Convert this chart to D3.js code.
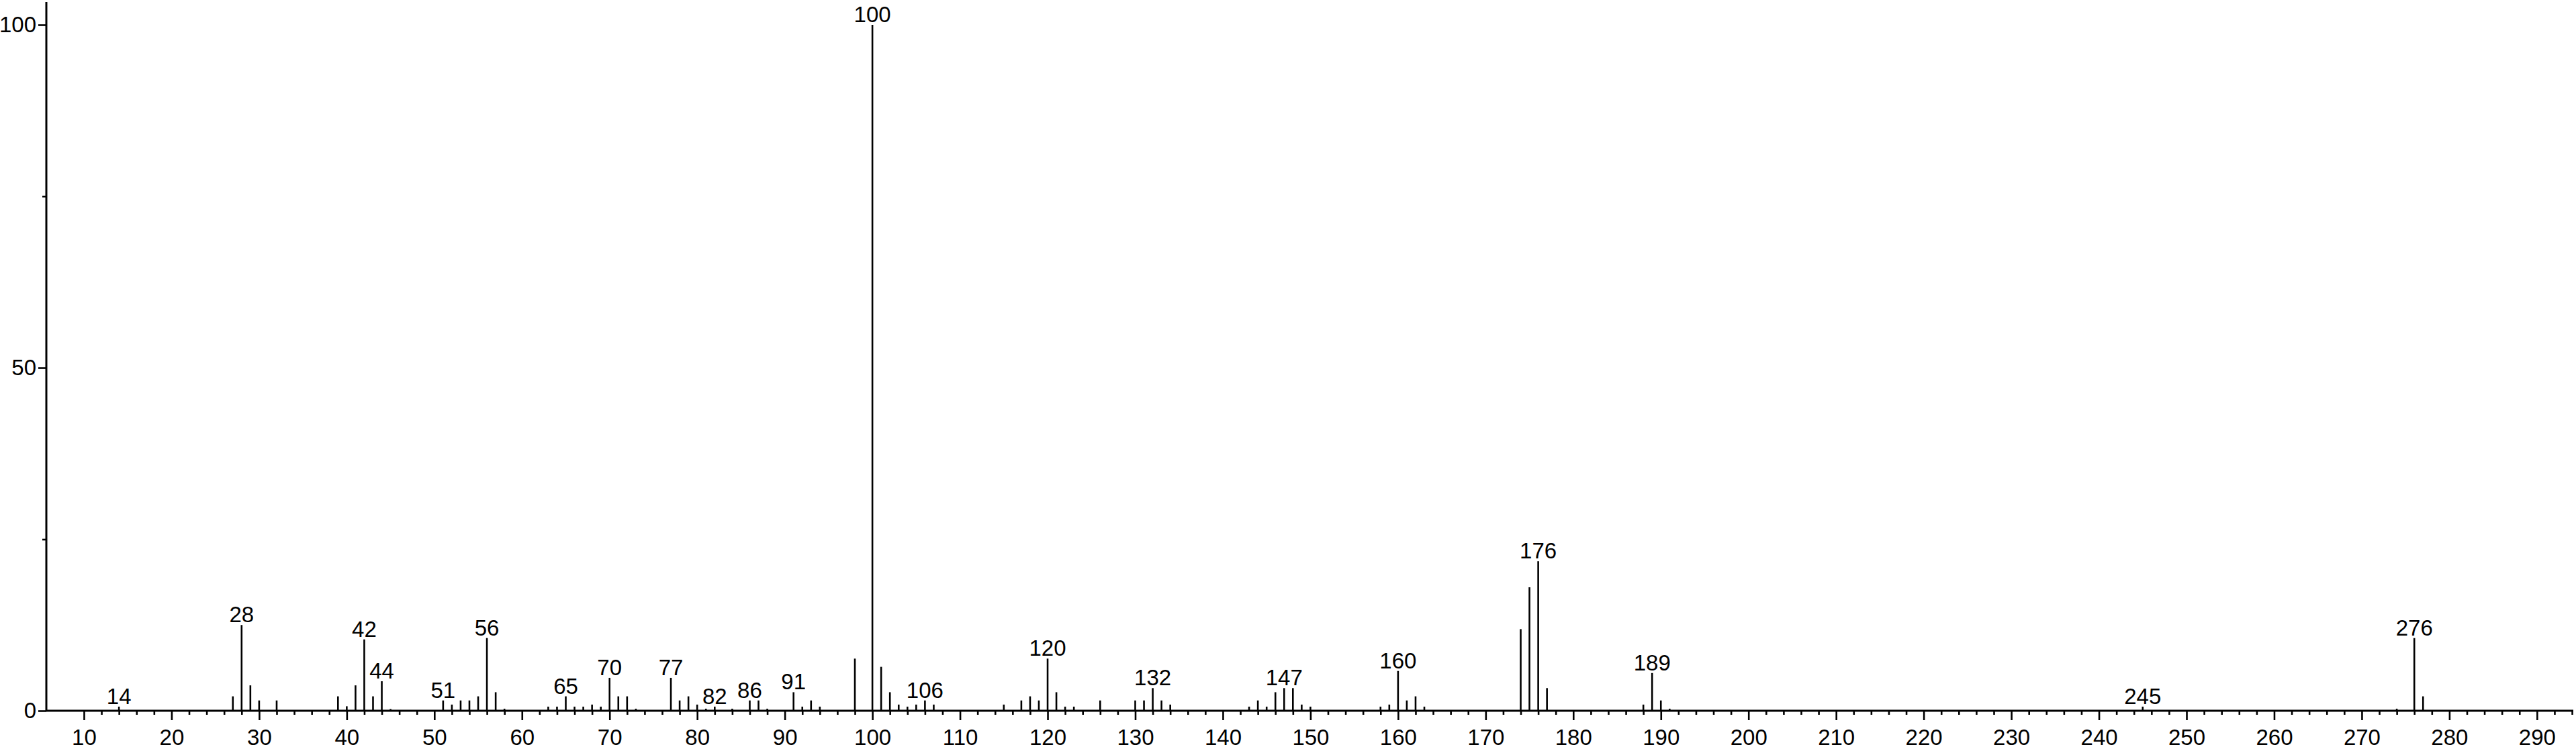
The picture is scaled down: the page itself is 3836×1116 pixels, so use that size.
<!DOCTYPE html>
<html lang="en">
<head>
<meta charset="utf-8">
<script src="https://d3js.org/d3.v7.min.js"></script>
<style type="text/css">
body {
	margin: 0;
	background: #fff;
}
svg text {
	font-family: "Liberation Sans", Arial, sans-serif;
	font-size: 33px;
	fill: #000;
}
</style>
</head>
<body>
<script type="text/javascript">

// mass spectrum: m/z and relative intensity (%)
const mz = [14, 27, 28, 29, 30, 32, 39, 40, 41, 42, 43, 44, 45,
            51, 52, 53, 54, 55, 56, 57, 58, 63, 64, 65, 66, 67, 68, 69,
            70, 71, 72, 73, 77, 78, 79, 80, 81, 82, 84, 86, 87, 88,
            91, 92, 93, 94, 98, 100, 101, 102, 103, 104, 105, 106, 107,
            115, 117, 118, 119, 120, 121, 122, 123, 126, 130, 131, 132, 133, 134,
            143, 144, 145, 146, 147, 148, 149, 150, 158, 159, 160, 161, 162, 163,
            174, 175, 176, 177, 188, 189, 190, 191, 245, 274, 276, 277]
const intensity = [0.6, 2.1, 12.5, 3.7, 1.5, 1.5, 2.1, 0.65, 3.7, 10.4, 2.1, 4.3, 0.25,
            1.5, 0.9, 1.5, 1.5, 2.1, 10.6, 2.7, 0.3, 0.6, 0.6, 2.1, 0.6, 0.6, 0.9, 0.6,
            4.8, 2.1, 2.1, 0.3, 4.8, 1.5, 2.1, 0.9, 0.3, 0.6, 0.3, 1.5, 1.5, 0.3,
            2.7, 0.6, 1.5, 0.6, 7.6, 100, 6.4, 2.7, 0.9, 0.6, 0.9, 1.5, 0.9,
            0.9, 1.5, 2.1, 1.5, 7.6, 2.7, 0.6, 0.6, 1.5, 1.5, 1.5, 3.3, 1.5, 0.9,
            0.6, 1.5, 0.6, 2.7, 3.3, 3.3, 0.9, 0.6, 0.6, 0.9, 5.8, 1.5, 2.1, 0.6,
            11.9, 18.0, 21.8, 3.3, 0.9, 5.5, 1.5, 0.3, 0.6, 0.3, 10.6, 2.1]

// peaks that carry an m/z label
const labelled = [14, 28, 42, 44, 51, 56, 65, 70, 77, 82, 86, 91, 100,
                  106, 120, 132, 147, 160, 176, 189, 245, 276]

// axis ticks
const xMajorTicks = d3.range(10, 300, 10)
const xMinorTicks = d3.range(10, 295, 2).filter(d => d % 10 !== 0)
const yMajorTicks = [0, 50, 100]
const yMinorTicks = [25, 75]

const width = 3836
const height = 1116

const x = d3.scaleLinear()
            .domain([5.71, 294.15])
            .range([69, 3832])

const y = d3.scaleLinear()
            .domain([0, 100])
            .range([1059, 37])

const svg = d3.select("body")
            .append("svg")
            .attr("width", width)
            .attr("height", height)

const peaks = mz.map((m, i) => ({ m: m, v: intensity[i] }))

// sticks
svg.append("g")
    .selectAll("line")
    .data(peaks)
    .enter()
    .append("line")
    .attr("x1", d => x(d.m))
    .attr("x2", d => x(d.m))
    .attr("y1", y(0))
    .attr("y2", d => y(d.v))
    .style("stroke", "#000")
    .style("stroke-width", 2.6)

// peak labels
svg.append("g")
    .selectAll("text")
    .data(peaks.filter(d => labelled.includes(d.m)))
    .enter()
    .append("text")
    .attr("x", d => x(d.m))
    .attr("y", d => y(d.v) - 4)
    .attr("text-anchor", "middle")
    .text(d => d.m)

// x axis: minor ticks first, then majors with labels
const xMinor = svg.append("g")
    .attr("transform", `translate(0,${y(0)})`)
    .call(d3.axisBottom(x).tickValues(xMinorTicks).tickSize(6).tickFormat(""))

const xAxis = svg.append("g")
    .attr("transform", `translate(0,${y(0)})`)
    .call(d3.axisBottom(x).tickValues(xMajorTicks).tickSize(14).tickPadding(14).tickSizeOuter(0))

// y axis
const yMinor = svg.append("g")
    .attr("transform", `translate(${x.range()[0]},0)`)
    .call(d3.axisLeft(y).tickValues(yMinorTicks).tickSize(6).tickFormat(""))

const yAxis = svg.append("g")
    .attr("transform", `translate(${x.range()[0]},0)`)
    .call(d3.axisLeft(y).tickValues(yMajorTicks).tickSize(12).tickPadding(3).tickSizeOuter(0))

// strip d3 default fonts, thicken lines
svg.selectAll(".tick text")
    .attr("font-family", null)
    .attr("font-size", null)

svg.selectAll(".tick line")
    .style("stroke", "#000")
    .style("stroke-width", 2.6)

xMinor.select(".domain").remove()
yMinor.select(".domain").remove()

xAxis.select(".domain")
    .attr("d", `M${x.range()[0]},0H${x.range()[1]}`)
    .style("stroke", "#000")
    .style("stroke-width", 3)

yAxis.select(".domain")
    .attr("d", `M0,3V${y(0)}`)
    .style("stroke", "#000")
    .style("stroke-width", 3)

</script>
</body>
</html>
